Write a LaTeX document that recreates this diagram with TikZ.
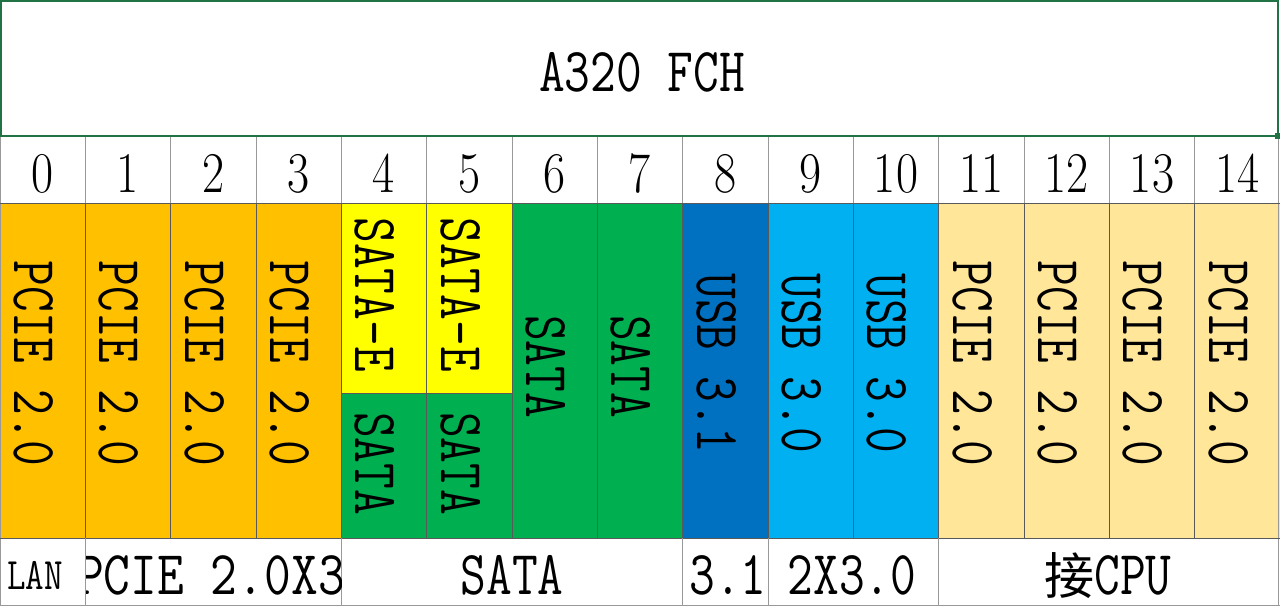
\documentclass[tikz,border=0pt]{standalone}
\usepackage{fontspec}
\newfontfamily\cjk{Noto Sans CJK SC}
\definecolor{cOrange}{HTML}{FFC000}
\definecolor{cYellow}{HTML}{FFFF00}
\definecolor{cGreen}{HTML}{00B050}
\definecolor{cDBlue}{HTML}{0070C0}
\definecolor{cLBlue}{HTML}{00B0F0}
\definecolor{cPale}{HTML}{FFE699}
\definecolor{cSel}{HTML}{217346}
\newcommand\tallbox[1]{\scalebox{1}[1.25]{#1}}
\tikzset{
  vtext/.style={rotate=-90, inner sep=0pt, font=\ttfamily\fontsize{50}{50}\selectfont},
  htext/.style={inner sep=0pt, font=\ttfamily\fontsize{50}{50}\selectfont},
  numtext/.style={inner sep=0pt, font=\rmfamily\fontsize{48}{48}\selectfont},
  darkgrid/.style={draw=black!65, line width=0.8pt},
  greygrid/.style={draw=black!40, line width=1pt},
}
\begin{document}
\begin{tikzpicture}[x=1pt,y=-1pt]
\useasboundingbox (0,0) rectangle (1280,606);
\fill[white] (0,0) rectangle (1280,606);
% colour fills
\fill[cOrange] (0,203) rectangle (341.33,538);
\fill[cYellow] (341.33,203) rectangle (512,393);
\fill[cGreen] (341.33,393) rectangle (512,538);
\fill[cGreen] (512,203) rectangle (682.67,538);
\fill[cDBlue] (682.67,203) rectangle (768,538);
\fill[cLBlue] (768,203) rectangle (938.67,538);
\fill[cPale] (938.67,203) rectangle (1280,538);
% number row grid
\foreach \i in {1,...,14} {
  \draw[greygrid] ({85.333*\i},136) -- ({85.333*\i},203);
}
\draw[greygrid] (0.5,136) -- (0.5,606);
\draw[greygrid] (1278.5,136) -- (1278.5,606);
% coloured region grid
\foreach \i in {1,...,14} {
  \draw[darkgrid] ({85.333*\i},203) -- ({85.333*\i},538);
}
\draw[darkgrid] (341.33,393) -- (512,393);
\draw[darkgrid] (0,203) -- (1280,203);
\draw[darkgrid] (0,538) -- (1280,538);
% bottom row grid
\foreach \xx in {85.333,341.33,682.67,768,938.67} {
  \draw[greygrid] (\xx,538) -- (\xx,606);
}
\draw[greygrid] (0,605) -- (1280,605);
% title box
\draw[cSel, line width=1.6pt] (1,1) rectangle (1278,136);
\fill[cSel] (1275,133) rectangle (1281,139);
\node[htext] (title) at (642,72.5) {\tallbox{A320 FCH}};
% numbers
\foreach \i in {0,...,14} {
  \node[numtext] (n\i) at ({85.333*\i+42.667},173.5) {\scalebox{1}[1.2]{\i}};
}
% vertical texts
\foreach \i in {0,1,2,3,11,12,13,14} {
  \node[vtext] (v\i) at ({85.333*\i+33.5},363.5) {\tallbox{PCIE 2.0}};
}
\foreach \i in {4,5} {
  \node[vtext] (se\i) at ({85.333*\i+33.5},294.5) {\tallbox{SATA-E}};
  \node[vtext] (s\i) at ({85.333*\i+33.5},463.5) {\tallbox{SATA}};
}
\foreach \i in {6,7} {
  \node[vtext] (s\i) at ({85.333*\i+33.5},366.5) {\tallbox{SATA}};
}
\node[vtext] (u8) at ({85.333*8+33.5},363.5) {\tallbox{USB 3.1}};
\node[vtext] (u9) at ({85.333*9+33.5},363.5) {\tallbox{USB 3.0}};
\node[vtext] (u10) at ({85.333*10+33.5},363.5) {\tallbox{USB 3.0}};
% bottom row texts
\node[inner sep=0pt, font=\ttfamily\fontsize{36}{36}\selectfont] (lan) at (35,575.5) {\tallbox{LAN}};
\begin{scope}
  \clip (86,538) rectangle (341.33,606);
  \node[inner sep=0pt, font=\ttfamily\fontsize{52}{52}\selectfont, anchor=east] (pcie3) at (345,575.5) {\scalebox{1}[1.2]{PCIE 2.0X3}};
\end{scope}
\node[htext] (sata) at (512,575.5) {\tallbox{SATA}};
\node[htext] (b31) at (728,575.5) {\tallbox{3.1}};
\node[htext] (b230) at (852,575.5) {\tallbox{2X3.0}};
\node[htext] (cpu) at (1108,575.5) {{\cjk\fontsize{50}{50}\selectfont 接}\tallbox{CPU}};
\end{tikzpicture}
\end{document}
